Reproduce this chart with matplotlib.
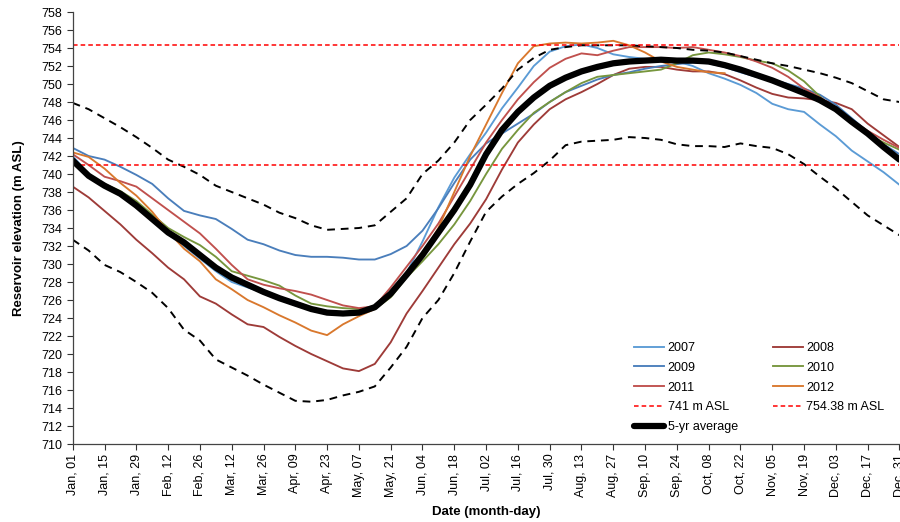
import matplotlib
matplotlib.use("Agg")
import matplotlib.pyplot as plt
import numpy as np

plt.rcParams['font.family'] = ['Liberation Sans', 'DejaVu Sans']

# weekly sample days (Jan 01 = day 0 ... Dec 31 = day 364)
days = list(range(0, 365, 7))

tick_days = list(range(0, 365, 14))
tick_labels = ["Jan, 01", "Jan, 15", "Jan, 29", "Feb, 12", "Feb, 26", "Mar, 12", "Mar, 26",
               "Apr, 09", "Apr, 23", "May, 07", "May, 21", "Jun, 04", "Jun, 18", "Jul, 02",
               "Jul, 16", "Jul, 30", "Aug, 13", "Aug, 27", "Sep, 10", "Sep, 24", "Oct, 08",
               "Oct, 22", "Nov, 05", "Nov, 19", "Dec, 03", "Dec, 17", "Dec, 31"]

y2007 = [742.0, 740.0, 738.8, 737.6, 736.3, 734.9, 733.3, 732.0, 730.6, 729.2, 728.0, 727.4, 726.8,
         726.1, 725.4, 724.9, 724.7, 724.6, 724.7, 725.3, 726.8, 729.0, 732.5, 736.3, 739.6, 742.2,
         744.6, 747.3, 749.6, 752.0, 753.6, 754.2, 754.4, 754.0, 753.3, 753.0, 752.8, 752.7, 752.5,
         752.0, 751.2, 750.6, 749.9, 749.0, 747.8, 747.2, 746.9, 745.5, 744.2, 742.6, 741.4, 740.2,
         738.8]
y2008 = [738.6, 737.4, 735.9, 734.4, 732.7, 731.2, 729.6, 728.3, 726.4, 725.6, 724.4, 723.3, 723.0,
         721.9, 720.9, 720.0, 719.2, 718.4, 718.1, 718.9, 721.3, 724.5, 727.0, 729.6, 732.2, 734.5,
         737.2, 740.5, 743.5, 745.5, 747.2, 748.3, 749.1, 750.0, 751.0, 751.7, 751.9, 751.9, 751.6,
         751.4, 751.4, 751.1, 750.4, 749.6, 748.9, 748.5, 748.4, 748.2, 747.9, 747.2, 745.6, 744.3,
         743.0]
y2009 = [742.9, 742.0, 741.6, 740.8, 739.9, 738.9, 737.3, 735.9, 735.4, 735.0, 733.9, 732.7, 732.2,
         731.5, 731.0, 730.8, 730.8, 730.7, 730.5, 730.5, 731.1, 732.0, 733.7, 736.2, 739.0, 741.6,
         743.4, 744.5, 745.6, 746.7, 748.0, 749.1, 749.8, 750.5, 751.0, 751.3, 751.7, 752.0, 752.2,
         752.4, 752.3, 751.9, 751.3, 750.8, 750.5, 750.0, 749.5, 748.8, 747.7, 746.2, 744.7, 743.3,
         742.2]
y2010 = [741.2, 739.7, 738.9, 738.1, 737.0, 735.5, 734.0, 733.0, 732.1, 730.8, 729.2, 728.7, 728.2,
         727.6, 726.5, 725.6, 725.3, 725.1, 725.0, 725.0, 726.3, 728.5, 730.3, 732.2, 734.4, 737.0,
         740.0, 742.8, 744.9, 746.8, 748.0, 749.1, 750.1, 750.8, 751.0, 751.2, 751.4, 751.6, 752.3,
         753.2, 753.5, 753.3, 753.0, 752.6, 752.3, 751.5, 750.3, 748.6, 747.0, 745.6, 744.4, 743.5,
         742.7]
y2011 = [742.2, 741.0, 739.7, 739.2, 738.6, 737.3, 736.0, 734.7, 733.4, 731.7, 729.9, 728.3, 727.7,
         727.3, 727.0, 726.6, 726.0, 725.4, 725.1, 725.3, 727.4, 729.7, 732.0, 734.5, 737.5, 740.5,
         743.5, 746.0, 748.3, 750.2, 751.8, 752.8, 753.4, 753.2, 753.7, 754.1, 754.1, 754.1, 754.0,
         754.1, 753.8, 753.5, 753.1, 752.5, 751.8, 750.8, 749.5, 748.5, 747.4, 746.0, 744.8, 743.8,
         742.9]
y2012 = [742.4, 741.9, 740.6, 739.0, 737.6, 735.8, 733.6, 731.7, 730.3, 728.3, 727.2, 726.0, 725.2,
         724.3, 723.5, 722.6, 722.1, 723.3, 724.2, 725.0, 726.5, 728.6, 731.0, 734.0, 738.0, 742.0,
         745.5, 749.0, 752.3, 754.2, 754.5, 754.6, 754.5, 754.6, 754.8, 754.3, 753.5, 752.5, 751.9,
         751.6, 751.3, 751.2]
avg5 = [741.5, 739.8, 738.7, 737.8, 736.5, 735.0, 733.5, 732.4, 731.0, 729.6, 728.5, 727.7, 726.9,
        726.2, 725.6, 725.0, 724.6, 724.5, 724.6, 725.2, 726.7, 728.8, 731.0, 733.5, 736.0, 738.8,
        742.2, 744.9, 746.9, 748.5, 749.8, 750.7, 751.4, 751.9, 752.3, 752.5, 752.6, 752.7, 752.6,
        752.6, 752.5, 752.1, 751.6, 751.0, 750.4, 749.7, 749.0, 748.2, 747.2, 745.8, 744.5, 743.0,
        741.6]
upper = [747.9, 747.2, 746.2, 745.2, 744.1, 742.9, 741.6, 740.8, 739.9, 738.7, 738.0, 737.3, 736.6,
         735.7, 735.1, 734.3, 733.8, 733.9, 734.0, 734.3, 735.8, 737.3, 740.0, 741.5, 743.5, 746.0,
         747.7, 749.5, 751.6, 752.9, 753.8, 754.1, 754.3, 754.3, 754.3, 754.3, 754.2, 754.1, 754.0,
         753.8, 753.7, 753.5, 753.1, 752.7, 752.3, 752.0, 751.6, 751.2, 750.7, 750.1, 749.2, 748.3,
         748.0]
lower = [732.7, 731.5, 729.9, 729.1, 728.0, 726.8, 725.1, 722.7, 721.5, 719.4, 718.5, 717.6, 716.6,
         715.7, 714.8, 714.7, 714.9, 715.4, 715.8, 716.4, 718.5, 720.8, 724.0, 726.0, 729.0, 732.5,
         735.8, 737.5, 738.9, 740.1, 741.5, 743.2, 743.6, 743.7, 743.8, 744.1, 744.0, 743.8, 743.3,
         743.1, 743.1, 743.0, 743.4, 743.1, 742.9, 742.2, 741.1, 739.7, 738.4, 736.9, 735.4, 734.3,
         733.2]
ref_low = 741.0
ref_high = 754.38

fig = plt.figure(figsize=(9.0, 5.22), dpi=100)
ax = fig.add_axes([0.0808, 0.1494, 0.9186, 0.8276])

lw = 1.35
h07, = ax.plot(days, y2007, color='#5B9BD5', lw=lw, label='2007')
h08, = ax.plot(days, y2008, color='#9E3B38', lw=lw, label='2008')
h09, = ax.plot(days, y2009, color='#4A7EBB', lw=lw, label='2009')
h10, = ax.plot(days, y2010, color='#77963D', lw=lw, label='2010')
h11, = ax.plot(days, y2011, color='#C0504D', lw=lw, label='2011')
h12, = ax.plot(days[:len(y2012)], y2012, color='#D9782D', lw=lw, label='2012')
ax.plot(days, upper, color='black', lw=1.4, dashes=(4, 3))
ax.plot(days, lower, color='black', lw=1.4, dashes=(4, 3))
hl = ax.axhline(ref_low, color='#FF0000', lw=1.1, dashes=(3, 2), label='741 m ASL')
hh = ax.axhline(ref_high, color='#FF0000', lw=1.1, dashes=(3, 2), label='754.38 m ASL')
ha, = ax.plot(days, avg5, color='black', lw=4.5, solid_capstyle='round', label='5-yr average')

ax.set_xlim(0, 364)
ax.set_ylim(710, 758)
ax.set_yticks(np.arange(710, 759, 2))
ax.set_xticks(tick_days)
ax.set_xticklabels(tick_labels, rotation=90)
ax.tick_params(axis='both', labelsize=9, direction='out', length=4, width=0.8, colors='#333333',
               labelcolor='black')
ax.tick_params(axis='x', pad=3)
for s in ['top', 'right']:
    ax.spines[s].set_visible(False)
for s in ['left', 'bottom']:
    ax.spines[s].set_color('#444444')
    ax.spines[s].set_linewidth(0.9)

ax.set_ylabel('Reservoir elevation (m ASL)', fontsize=9.5, fontweight='bold', labelpad=12)
ax.set_xlabel('Date (month-day)', fontsize=9.5, fontweight='bold', labelpad=6)

handles = [h07, h09, h11, hl, ha, h08, h10, h12, hh]
leg = ax.legend(handles=handles, labels=[h.get_label() for h in handles], ncol=2,
                loc='upper left', bbox_to_anchor=(0.665, 0.262), frameon=False, fontsize=9,
                handlelength=2.4, handletextpad=0.3, columnspacing=2.8, labelspacing=0.62)

fig.savefig('out.png', dpi=100)
